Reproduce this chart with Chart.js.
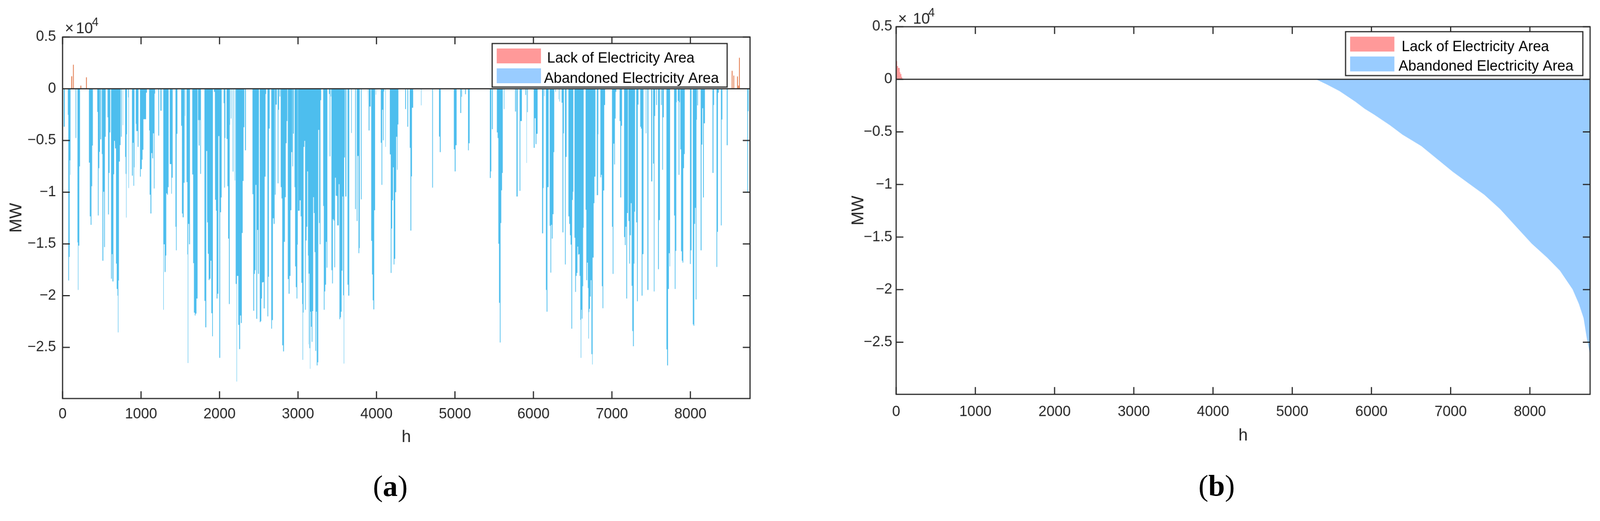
<!DOCTYPE html>
<html><head><meta charset="utf-8">
<script src="https://cdn.jsdelivr.net/npm/chart.js@4.4.1/dist/chart.umd.min.js"></script>
<style>
html,body{margin:0;padding:0;background:#fff;overflow:hidden;}
#wrap{position:relative;width:4194px;height:1333px;overflow:hidden;background:#fff;transform-origin:0 0;}
canvas{position:absolute;top:0;}
.cap{position:absolute;font-family:'Liberation Serif','Times New Roman',serif;font-size:78px;line-height:1;color:#000;transform:translate(-50%,-50%);white-space:nowrap;}
</style></head><body>
<div id="wrap">
<canvas id="ca" width="2097" height="1333" style="left:0"></canvas>
<canvas id="cb" width="2097" height="1333" style="left:2097px"></canvas>
<div class="cap" style="left:1023px;top:1273px">(<b>a</b>)</div>
<div class="cap" style="left:3189px;top:1272px">(<b>b</b>)</div>
</div>
<script>
// ---------- labels & ticks ----------
const xTitle = 'h';
const yTitle = 'MW';
const legendLack = 'Lack of Electricity Area';
const legendAbandoned = 'Abandoned Electricity Area';
const xTickValues = [0, 1000, 2000, 3000, 4000, 5000, 6000, 7000, 8000];
const yTickValues = [5000, 0, -5000, -10000, -15000, -20000, -25000];
const xMin = 0, xMax = 8760, yMin = -29950, yMax = 5000;

// ---------- panel (a): hourly series, read as [startHour, endHour, MW] ----------
const lackA = [[112,121,1210],[134,142,2320],[229,237,300],[300,308,1110],[8528,8536,1730],[8549,8557,1270],[8596,8604,1185],[8609,8617,300],[8621,8629,3000]];

const abandonedA1 = [[15,28,-3670],[67,73,-2520],[73,82,-18540],[82,90,-16260],[90,97,-6920],[97,101,-8320],[166,174,-4760],[190,196,-14860],[196,202,-19450],[202,213,-15170],[213,222,-7500],[336,347,-7140],[347,358,-12340],[358,368,-13160],[368,377,-9420],[377,386,-5490],[442,450,-2240],[450,459,-12250],[459,468,-7680],[468,476,-6100],[481,491,-4890],[500,508,-6310],[508,519,-16630],[519,530,-9960],[530,539,-15310],[539,549,-4640],[573,580,-2760],[580,590,-12150],[590,599,-8140],[599,608,-4220],[618,627,-18360],[627,636,-15990],[636,648,-18630],[648,657,-8270],[657,666,-5040],[670,681,-5770],[681,690,-16900],[690,700,-19360],[700,705,-20000],[705,711,-23560],[711,718,-18540],[718,730,-7045],[730,739,-5440],[745,754,-4640],[767,771,-3520],[797,804,-6590],[804,810,-8230],[810,815,-12460],[815,821,-4400],[836,840,-840],[840,845,-9600],[884,894,-8410],[894,903,-5220],[903,911,-9380],[911,916,-7590],[933,939,-3395],[939,942,-8810],[942,957,-4090],[957,967,-5620],[987,996,-8500],[996,1010,-7770],[1010,1019,-6860],[1019,1030,-5900],[1030,1051,-2940],[1054,1064,-2940],[1064,1075,-380],[1103,1110,-4030],[1110,1120,-10240],[1120,1131,-12060],[1131,1142,-6220],[1142,1153,-6730],[1153,1164,-4310],[1164,1172,-9640],[1172,1179,-470],[1220,1230,-4530],[1247,1261,-2120],[1284,1289,-21370],[1289,1301,-15040],[1301,1312,-17720],[1312,1321,-16130],[1321,1332,-10110],[1332,1342,-10240],[1342,1351,-9510],[1366,1385,-7280],[1385,1392,-10150],[1392,1403,-8600],[1439,1446,-13340],[1446,1454,-15620],[1454,1463,-4360],[1511,1521,-3580],[1521,1530,-12060],[1530,1543,-12430],[1543,1554,-9090],[1560,1564,-2630],[1580,1590,-9020],[1590,1595,-16020],[1595,1601,-26520],[1601,1612,-13070],[1612,1623,-15040],[1653,1664,-8290],[1664,1674,-16860],[1674,1685,-21650],[1685,1694,-21920],[1694,1706,-21740],[1706,1720,-20280],[1726,1735,-3030],[1735,1745,-5490],[1745,1754,-3030],[1754,1763,-8230],[1808,1819,-20510],[1819,1831,-23070],[1831,1842,-6020],[1842,1851,-12920],[1851,1862,-15950],[1862,1873,-18490],[1873,1885,-18360],[1885,1896,-16630],[1896,1907,-21700],[1907,1915,-23930],[1929,1941,-300],[1944,1954,-10730],[1954,1963,-11790],[1963,1974,-20280],[1974,1985,-19820],[1985,1997,-4580],[1997,2008,-26020],[2008,2019,-11940],[2019,2027,-10510],[2053,2060,-1390],[2060,2068,-9560],[2068,2075,-4760],[2090,2101,-4850],[2101,2110,-9420],[2110,2120,-14490],[2120,2129,-20820],[2129,2133,-3490],[2144,2151,-2880],[2168,2176,-8010],[2193,2198,-8870],[2206,2217,-18870],[2217,2222,-28310],[2222,2239,-18090],[2239,2250,-22830],[2250,2262,-25170],[2262,2273,-21920],[2273,2284,-22650],[2284,2295,-13940],[2295,2306,-8910],[2306,2316,-3720],[2325,2336,-5950],[2420,2430,-10200],[2430,2441,-21460],[2441,2450,-17900],[2450,2459,-17540],[2459,2469,-9290],[2469,2480,-22250],[2480,2491,-13650],[2491,2502,-17900],[2513,2523,-22560],[2523,2532,-22470],[2532,2541,-20280],[2541,2553,-18720],[2553,2564,-18690],[2564,2575,-21240],[2575,2586,-8500],[2586,2594,-510],[2611,2620,-22010],[2620,2629,-18180],[2629,2639,-3850],[2659,2668,-23200],[2668,2680,-22370],[2680,2691,-12520],[2691,2702,-13070],[2706,2715,-10240],[2715,2730,-1530],[2741,2750,-9140],[2750,2758,-2030],[2765,2773,-750],[2780,2790,-9510],[2790,2799,-10600],[2799,2810,-24800],[2810,2821,-25390],[2821,2833,-14800],[2833,2844,-10480],[2844,2855,-5270],[2855,2864,-3120],[2870,2881,-18400],[2881,2892,-19820],[2892,2904,-18090],[2904,2915,-11750],[2915,2926,-6130]];

const abandonedA2 = [[2928,2937,-7500],[2937,2946,-4340],[2956,2963,-9510],[2963,2972,-17170],[2972,2982,-19180],[2982,2991,-20280],[2991,2997,-15070],[3000,3021,-11790],[3021,3034,-10790],[3034,3043,-12340],[3043,3053,-18760],[3053,3058,-20820],[3058,3064,-26210],[3064,3071,-21640],[3071,3081,-5620],[3081,3090,-5040],[3090,3099,-21370],[3099,3109,-14670],[3109,3118,-13340],[3118,3127,-7990],[3127,3133,-16130],[3133,3137,-24710],[3137,3146,-17870],[3146,3153,-25080],[3153,3157,-27080],[3157,3165,-21550],[3165,3174,-23010],[3174,3183,-24470],[3183,3193,-21500],[3193,3202,-10480],[3202,3211,-12010],[3211,3221,-15800],[3221,3230,-25350],[3230,3239,-21550],[3239,3249,-26750],[3249,3258,-26440],[3258,3269,-3980],[3269,3277,-12980],[3277,3286,-15040],[3286,3295,-1110],[3321,3329,-11330],[3329,3338,-21370],[3338,3347,-19600],[3347,3357,-18940],[3357,3366,-14800],[3366,3374,-17300],[3394,3403,-510],[3403,3411,-6530],[3417,3422,-750],[3426,3435,-17540],[3435,3444,-18820],[3444,3454,-12610],[3454,3463,-12740],[3463,3472,-17260],[3472,3482,-8600],[3482,3491,-10330],[3491,3500,-10370],[3500,3519,-13210],[3519,3528,-9230],[3528,3538,-22280],[3538,3547,-22100],[3547,3556,-21550],[3556,3566,-17590],[3566,3575,-10420],[3575,3583,-19970],[3583,3588,-26570],[3588,3597,-6640],[3603,3616,-10420],[3631,3640,-18940],[3640,3653,-20000],[3678,3685,-4270],[3728,3737,-11640],[3749,3758,-12790],[3758,3771,-6500],[3771,3780,-15900],[3780,3786,-15400],[3801,3810,-10690],[3885,3889,-2030],[3900,3911,-4030],[3911,3926,-1720],[3933,3943,-14710],[3943,3952,-17960],[3952,3961,-20460],[3961,3971,-21330],[3971,3982,-11750],[3991,3995,-570],[4012,4015,-440],[4055,4064,-5220],[4064,4073,-9290],[4073,4083,-2030],[4083,4092,-4980],[4092,4098,-260],[4113,4118,-5620],[4170,4182,-6350],[4182,4191,-17810],[4191,4200,-13520],[4200,4210,-10790],[4210,4219,-7590],[4219,4228,-16990],[4228,4239,-16440],[4239,4251,-10000],[4251,4262,-4640],[4262,4269,-7830],[4269,4279,-3450],[4366,4376,-1970],[4394,4404,-3670],[4424,4433,-5710],[4433,4443,-13710],[4443,4452,-8470],[4452,4467,-1840],[4568,4573,-1610],[4710,4719,-9560],[4797,4807,-4620],[4807,4818,-6130],[4986,4997,-5860],[4997,5008,-7990],[5008,5021,-5460],[5068,5079,-2340],[5083,5090,-780],[5129,5139,-530],[5167,5176,-5950],[5176,5187,-5270],[5445,5456,-8630],[5456,5463,-7990],[5471,5482,-3910],[5534,5544,-4220],[5544,5553,-4760],[5553,5562,-14980],[5562,5572,-20700],[5572,5581,-24530],[5581,5590,-12980],[5590,5600,-9820],[5600,5609,-8140],[5624,5630,-1970],[5766,5777,-2210],[5784,5799,-10420],[5824,5833,-9870],[5833,5853,-3120]];

const abandonedA3 = [[5896,5905,-600],[5911,5915,-7170],[5920,5928,-2260],[6004,6015,-5710],[6015,6028,-2850],[6028,6038,-5350],[6038,6053,-4360],[6110,6123,-13980],[6123,6129,-9600],[6137,6142,-710],[6159,6168,-19450],[6168,6178,-21550],[6178,6193,-9510],[6207,6217,-13250],[6217,6226,-17780],[6226,6235,-13160],[6235,6245,-14490],[6245,6256,-12120],[6256,6265,-6130],[6280,6286,-290],[6319,6323,-1020],[6332,6338,-1240],[6359,6370,-1350],[6370,6381,-13890],[6381,6388,-4310],[6402,6411,-16990],[6411,6422,-6590],[6446,6456,-12340],[6456,6465,-13070],[6465,6474,-14160],[6474,6484,-15070],[6484,6493,-23200],[6493,6502,-10750],[6502,6508,-9960],[6523,6532,-14400],[6532,6541,-19640],[6541,6551,-18090],[6551,6560,-17810],[6560,6569,-15260],[6569,6579,-16040],[6579,6588,-15990],[6588,6597,-18090],[6597,6603,-22340],[6603,6609,-26020],[6609,6616,-21370],[6616,6625,-22230],[6625,6633,-19090],[6633,6640,-13430],[6665,6674,-11700],[6674,6683,-18510],[6683,6693,-16810],[6693,6700,-19270],[6700,6706,-24160],[6706,6711,-21590],[6711,6721,-21280],[6721,6730,-20090],[6730,6739,-18510],[6739,6749,-25660],[6749,6754,-26660],[6754,6767,-16320],[6767,6777,-11060],[6777,6790,-8500],[6808,6823,-10290],[6823,6827,-4400],[6853,6862,-8560],[6862,6872,-8320],[6872,6881,-19090],[6881,6890,-21220],[6890,6902,-9840],[6902,6913,-1570],[7001,7010,-13340],[7010,7019,-17900],[7019,7029,-5310],[7029,7038,-7320],[7038,7047,-2880],[7047,7056,-290],[7098,7107,-3120],[7107,7118,-10510],[7118,7129,-3580],[7155,7165,-14340],[7165,7174,-15110],[7174,7183,-13340],[7183,7193,-20280],[7193,7204,-12010],[7211,7221,-12790],[7221,7230,-16900],[7230,7241,-14160],[7241,7251,-11060],[7251,7260,-19050],[7260,7269,-23430],[7269,7279,-24890],[7279,7286,-16900],[7286,7295,-11880],[7310,7320,-12920],[7320,7329,-20550],[7329,7338,-1530],[7361,7370,-3670],[7370,7379,-3850],[7379,7389,-20000],[7389,7402,-15990],[7432,7439,-4310],[7452,7465,-19450],[7501,7514,-8960],[7525,7534,-7230],[7534,7542,-19600],[7542,7551,-2630],[7564,7573,-1570],[7588,7598,-17450],[7598,7611,-12700],[7626,7635,-1570],[7641,7650,-7830],[7650,7661,-2760],[7695,7704,-25200],[7704,7715,-26750],[7715,7726,-19360],[7726,7736,-15900],[7736,7741,-17170],[7792,7801,-12250],[7801,7810,-19360],[7810,7820,-15680],[7820,7825,-1300],[7840,7850,-1170],[7850,7859,-8320],[7859,7866,-1300],[7872,7881,-5860],[7881,7891,-15710],[7891,7900,-16630],[7900,7909,-16810],[7909,7919,-7680],[7919,7928,-6310],[7995,8004,-16940],[8004,8014,-15620],[8031,8040,-22780],[8040,8049,-22920],[8049,8059,-13070],[8059,8068,-11520],[8068,8077,-20370],[8077,8083,-2990],[8088,8096,-1610],[8131,8142,-15620],[8142,8152,-5400],[8152,8161,-1880],[8161,8171,-10510],[8171,8185,-3340],[8282,8294,-8140],[8294,8301,-1570],[8333,8342,-17230],[8342,8351,-13830],[8351,8361,-380],[8389,8398,-13210],[8398,8407,-2970],[8463,8475,-5460],[8725,8734,-10060],[8734,8743,-2170]];

// ---------- panel (b): sorted (duration) curves ----------
const lackHoursB = [0, 13, 25, 45, 53, 66, 77, 90];
const lackB      = [2320, 1740, 1260, 1080, 680, 510, 230, 0];
const abandonedHoursB = [5300, 5437, 5596, 5796, 5915, 6034, 6233, 6392, 6630, 6829, 7028, 7226, 7425, 7624, 7823, 8022, 8221, 8380, 8539, 8618, 8678, 8718, 8750, 8760];
const abandonedB      = [0, -490, -1117, -2125, -2807, -3352, -4360, -5259, -6349, -7575, -8801, -9891, -10981, -12343, -13978, -15613, -16975, -18202, -19973, -21335, -22698, -24605, -25800, -26240];

// ---------- fit the 4194-wide page into the actual viewport ----------
(function fit(){
  const s = window.innerWidth / 4194;
  if (Math.abs(s - 1) > 0.002) {
    document.getElementById('wrap').style.transform = 'scale(' + s + ')';
  }
})();

// ---------- helpers ----------
const FONT = "'Liberation Sans', Arial, Helvetica, sans-serif";
const INK = '#262626';
function segPoints(segs) {
  const pts = [];
  segs.forEach(([h0, h1, v]) => { pts.push({x:h0,y:0},{x:h0,y:v},{x:h1,y:v},{x:h1,y:0}); });
  return pts;
}
function zipPoints(xs, ys) { return xs.map((x, i) => ({x, y: ys[i]})); }
function fillDs(data, color, extra) {
  return Object.assign({data, fill:'origin', backgroundColor:color, borderWidth:0, borderColor:'rgba(0,0,0,0)', pointRadius:0, tension:0}, extra || {});
}
function fmtY(v) {
  const s = String(Math.round(v / 1000) / 10);
  return s.replace('-', '\u2212');
}

const frame = {
  id: 'frame',
  afterDatasetsDraw(chart, args, o) {
    const {ctx, chartArea: a, scales: {x, y}} = chart;
    ctx.save();
    ctx.strokeStyle = INK; ctx.lineWidth = 3;
    const y0 = y.getPixelForValue(0);
    ctx.beginPath(); ctx.moveTo(a.left, y0); ctx.lineTo(a.right, y0); ctx.stroke();
    ctx.strokeRect(a.left, a.top, a.right - a.left, a.bottom - a.top);
    const L = 19;
    ctx.beginPath();
    x.ticks.forEach(t => { const px = x.getPixelForValue(t.value);
      ctx.moveTo(px, a.bottom); ctx.lineTo(px, a.bottom - L);
      ctx.moveTo(px, a.top); ctx.lineTo(px, a.top + L); });
    y.ticks.forEach(t => { const py = y.getPixelForValue(t.value);
      ctx.moveTo(a.left, py); ctx.lineTo(a.left + L, py);
      ctx.moveTo(a.right, py); ctx.lineTo(a.right - L, py); });
    ctx.stroke();
    ctx.fillStyle = INK; ctx.textAlign = 'left'; ctx.textBaseline = 'alphabetic';
    ctx.font = '40px ' + FONT;
    ctx.fillText('\u00d7', a.left + o.ex[0], a.top + o.ex[3]);
    ctx.fillText('10', a.left + o.ex[1], a.top + o.ex[3]);
    ctx.font = '31px ' + FONT;
    ctx.fillText('4', a.left + o.ex[2], a.top + o.ex[4]);
    const g = o.legend;
    ctx.fillStyle = '#fff';
    ctx.fillRect(g.x, g.y, g.w, g.h);
    ctx.strokeStyle = INK; ctx.lineWidth = 3;
    ctx.strokeRect(g.x, g.y, g.w, g.h);
    ctx.fillStyle = '#FF9999'; ctx.fillRect(g.x + 12, g.y + 13, 116, 39);
    ctx.fillStyle = '#99CCFF'; ctx.fillRect(g.x + 12, g.y + 65, 116, 39);
    ctx.fillStyle = '#000'; ctx.font = '38px ' + FONT;
    ctx.fillText(legendLack, g.x + g.t1, g.y + g.b1);
    ctx.fillText(legendAbandoned, g.x + g.t2, g.y + g.b2);
    ctx.restore();
  }
};

function makeChart(id, datasets, c) {
  return new Chart(document.getElementById(id), {
    type: 'line',
    data: { datasets },
    options: {
      responsive: false, animation: false, devicePixelRatio: 1,
      layout: { padding: c.padding },
      plugins: { legend: {display:false}, tooltip: {enabled:false}, frame: c.frame },
      scales: {
        x: { type:'linear', min:xMin, max:xMax,
             afterBuildTicks: s => { s.ticks = xTickValues.map(v => ({value:v})); },
             afterFit: s => { s.height = c.xH; },
             ticks: { color:INK, font:{family:FONT, size:38}, padding:c.xPad, maxRotation:0, autoSkip:false, callback: v => String(v) },
             grid: { display:false, drawTicks:false }, border: { display:false },
             title: { display:true, text:xTitle, color:INK, font:{family:FONT, size:44}, padding:{top:0, bottom:c.xTitlePad} } },
        y: { type:'linear', min:yMin, max:yMax,
             afterBuildTicks: s => { s.ticks = yTickValues.map(v => ({value:v})); },
             afterFit: s => { s.width = c.yW; },
             ticks: { color:INK, font:{family:FONT, size:38}, padding:c.yPad, callback: v => fmtY(v) },
             grid: { display:false, drawTicks:false }, border: { display:false },
             title: { display:true, text:yTitle, color:INK, font:{family:FONT, size:44}, padding:{top:c.yTitlePad, bottom:0} } }
      }
    },
    plugins: [frame]
  });
}

makeChart('ca', [
  fillDs(segPoints(lackA), '#D95319'),
  fillDs(segPoints(abandonedA1), '#4DBEEE'),
  fillDs(segPoints(abandonedA2), '#4DBEEE'),
  fillDs(segPoints(abandonedA3), '#4DBEEE')
], {
  padding: {left:0, top:97, right:131, bottom:129},
  xH: 160, yW: 164, xPad: 19, yPad: 17, xTitlePad: 32, yTitlePad: 17,
  frame: { ex:[6, 35, 77, -10, -29], legend:{x:1290, y:114, w:616, h:114, t1:144, t2:136, b1:50, b2:103} }
});

makeChart('cb', [
  fillDs(zipPoints(lackHoursB, lackB), '#FF9999', {stepped:'after'}),
  fillDs(zipPoints(abandonedHoursB, abandonedB), '#99CCFF')
], {
  padding: {left:0, top:70, right:26, bottom:140},
  xH: 160, yW: 252, xPad: 24, yPad: 10, xTitlePad: 25, yTitlePad: 127,
  frame: { ex:[5, 44, 84, -8, -27], legend:{x:1430, y:83, w:622, h:115, t1:147, t2:139, b1:51, b2:102} }
});
</script>
</body></html>
